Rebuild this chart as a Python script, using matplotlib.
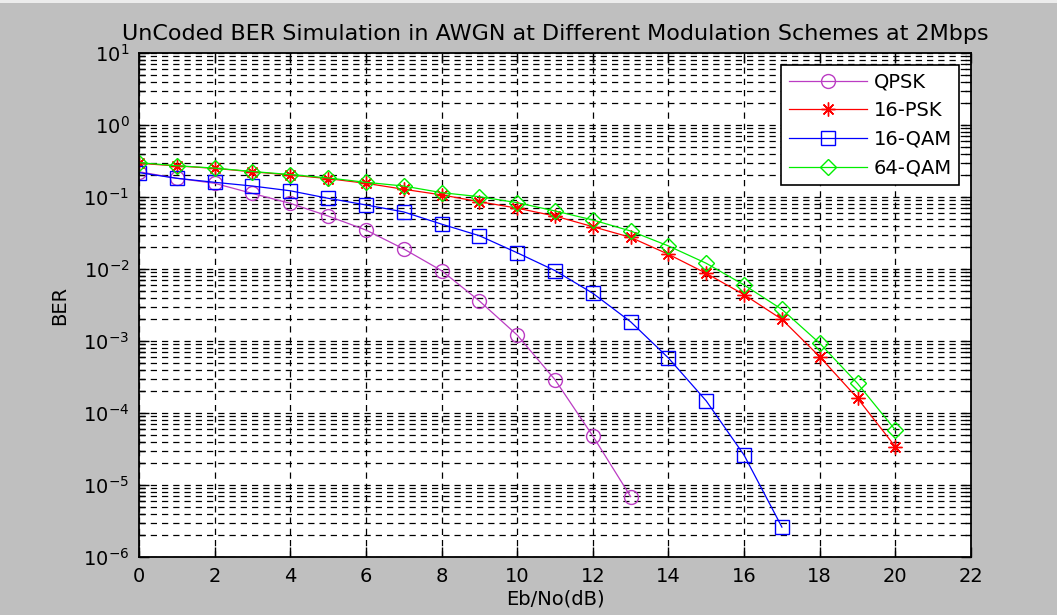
import numpy as np
import matplotlib.pyplot as plt
from matplotlib.ticker import LogLocator, FixedLocator, NullFormatter
from matplotlib.patches import Rectangle

# Eb/No points (dB) for each curve
ebno_qpsk = [0, 1, 2, 3, 4, 5, 6, 7, 8, 9, 10, 11, 12, 13]
ebno_16qam = [0, 1, 2, 3, 4, 5, 6, 7, 8, 9, 10, 11, 12, 13, 14, 15, 16, 17]
ebno_psk = [0, 1, 2, 3, 4, 5, 6, 7, 8, 9, 10, 11, 12, 13, 14, 15, 16, 17, 18, 19, 20]

# BER values
ber_qpsk = [0.224, 0.182, 0.155, 0.112, 0.0816, 0.0544, 0.0348, 0.019, 0.0095,
            0.0036, 1.21e-3, 2.9e-4, 4.8e-5, 6.9e-6]
ber_16psk = [0.294, 0.27, 0.25, 0.224, 0.202, 0.18, 0.155, 0.128, 0.107, 0.086,
             0.070, 0.0544, 0.0387, 0.0275, 0.016, 8.7e-3, 4.4e-3, 2.0e-3,
             6.05e-4, 1.6e-4, 3.4e-5]
ber_16qam = [0.218, 0.182, 0.16, 0.142, 0.122, 0.096, 0.0776, 0.062, 0.042, 0.029,
             0.0168, 0.0095, 4.6e-3, 1.85e-3, 5.8e-4, 1.47e-4, 2.6e-5, 2.6e-6]
ber_64qam = [0.30, 0.272, 0.252, 0.226, 0.205, 0.184, 0.16, 0.142, 0.115, 0.101,
             0.0834, 0.064, 0.048, 0.0337, 0.0209, 0.012, 6.0e-3, 2.75e-3,
             9.3e-4, 2.57e-4, 5.8e-5]

x_ticks = [0, 2, 4, 6, 8, 10, 12, 14, 16, 18, 20, 22]
y_exps = [1, 0, -1, -2, -3, -4, -5, -6]

bg = '#bfbfbf'
fig = plt.figure(figsize=(10.57, 6.15), dpi=100, facecolor=bg)
fig.patches.append(Rectangle((0, 1 - 3 / 615), 1, 3 / 615, transform=fig.transFigure,
                             facecolor='#ececec', edgecolor='none'))

ax = fig.add_axes([139 / 1057, 1 - 557 / 615, (971 - 139) / 1057, (557 - 53) / 615])
ax.set_facecolor('white')

kw = dict(lw=0.9, mfc='none', mew=1.0)
ax.semilogy(ebno_qpsk, ber_qpsk, color='#bb3cc3', marker='o', ms=10, label='QPSK', **kw)
ax.semilogy(ebno_psk, ber_16psk, color='#ff0000', marker=(8, 2, 0), ms=10, label='16-PSK', **kw)
ax.semilogy(ebno_16qam, ber_16qam, color='#0000ff', marker='s', ms=10, label='16-QAM', **kw)
ax.semilogy(ebno_psk, ber_64qam, color='#00ee00', marker='D', ms=8, label='64-QAM', **kw)

ax.set_xlim(0, 22)
ax.set_ylim(1e-6, 1e1)
ax.xaxis.set_major_locator(FixedLocator(x_ticks))
ax.set_xticklabels([str(v) for v in x_ticks])
ax.yaxis.set_major_locator(FixedLocator([10.0 ** e for e in y_exps]))
ax.set_yticklabels([r'$\mathregular{10^{%d}}$' % e for e in y_exps])
ax.yaxis.set_minor_locator(LogLocator(base=10, subs=np.arange(2, 10), numticks=20))
ax.yaxis.set_minor_formatter(NullFormatter())

gl = dict(color='black', lw=0.9, linestyle=(0, (5, 4)))
ax.grid(True, which='major', axis='both', **gl)
ax.grid(True, which='minor', axis='y', **gl)
ax.set_axisbelow(True)

ax.tick_params(which='both', direction='in', top=True, right=True, labelsize=14,
               pad=7, width=1)
ax.tick_params(which='major', length=7)
ax.tick_params(which='minor', length=4)
for s in ax.spines.values():
    s.set_linewidth(1.3)

ax.set_title('UnCoded BER Simulation in AWGN at Different Modulation Schemes at 2Mbps',
             fontsize=16, pad=9)
ax.set_xlabel('Eb/No(dB)', fontsize=14, labelpad=3)
ax.set_ylabel('BER', fontsize=14, labelpad=10)

leg = ax.legend(loc='upper right', fontsize=14, handlelength=4.0, handletextpad=0.35,
                labelspacing=0.5, borderaxespad=0.6, fancybox=False, framealpha=1,
                edgecolor='black')
leg.get_frame().set_linewidth(1.2)

fig.savefig('out.png', dpi=100, facecolor=bg)
